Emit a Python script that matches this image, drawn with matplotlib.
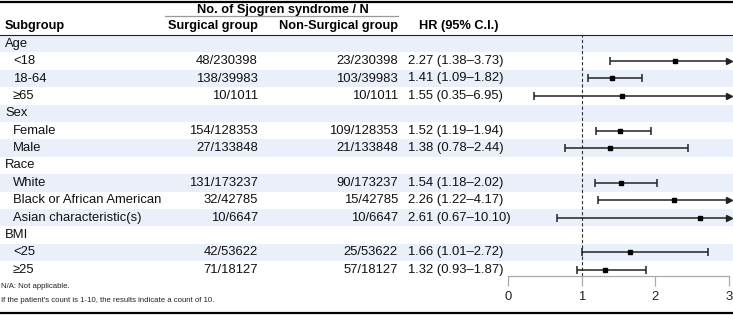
import numpy as np
import matplotlib.pyplot as plt
from matplotlib.lines import Line2D

plt.rcParams['font.family'] = ['Liberation Sans', 'DejaVu Sans']

labels = ["Age", "<18", "18-64", "≥65", "Sex", "Female", "Male", "Race", "White",
          "Black or African American", "Asian characteristic(s)", "BMI", "<25", "≥25"]
is_group = [True, False, False, False, True, False, False, True, False,
            False, False, True, False, False]
surg_events = [None, 48, 138, 10, None, 154, 27, None, 131, 32, 10, None, 42, 71]
nonsurg_events = [None, 23, 103, 10, None, 109, 21, None, 90, 15, 10, None, 25, 57]
n_total = [None, 230398, 39983, 1011, None, 128353, 133848, None, 173237, 42785, 6647,
           None, 53622, 18127]
hr = [None, 2.27, 1.41, 1.55, None, 1.52, 1.38, None, 1.54, 2.26, 2.61, None, 1.66, 1.32]
ci_lo = [None, 1.38, 1.09, 0.35, None, 1.19, 0.78, None, 1.18, 1.22, 0.67, None, 1.01, 0.93]
ci_hi = [None, 3.73, 1.82, 6.95, None, 1.94, 2.44, None, 2.02, 4.17, 10.10, None, 2.72, 1.87]
xticks = [0, 1, 2, 3]
footnotes = ["N/A: Not applicable.",
             "If the patient's count is 1-10, the results indicate a count of 10."]

W, H = 733, 316
fig = plt.figure(figsize=(W / 100, H / 100), dpi=100)

# table layer in pixel coordinates
tab = fig.add_axes([0, 0, 1, 1])
tab.set_xlim(0, W)
tab.set_ylim(H, 0)
tab.axis('off')

row_top = 35.0
row_h = 17.4
fs = 9.4
fs_head = 9.2
shade = '#E9F0FA'

for i, lab in enumerate(labels):
    y0 = row_top + i * row_h
    yc = y0 + row_h / 2
    if i % 2 == 0:
        tab.axhspan(y0, y0 + row_h, color=shade, lw=0, zorder=0)
    x = 5 if is_group[i] else 13
    tab.text(x, yc, lab, fontsize=fs, va='center', ha='left', color='#111')
    if not is_group[i]:
        tab.text(258, yc, f"{surg_events[i]}/{n_total[i]}", fontsize=fs,
                 va='center', ha='right', color='#111')
        tab.text(398, yc, f"{nonsurg_events[i]}/{n_total[i]}", fontsize=fs,
                 va='center', ha='right', color='#111')
        tab.text(408, yc, f"{hr[i]:.2f} ({ci_lo[i]:.2f}\u2013{ci_hi[i]:.2f})",
                 fontsize=fs, va='center', ha='left', color='#111')

# headers
tab.text(283, 10, "No. of Sjogren syndrome / N", fontsize=fs_head, fontweight='bold',
         ha='center', va='center')
tab.add_line(Line2D([165, 398], [16, 16], color='#999999', lw=0.9))
tab.text(5, 26.5, "Subgroup", fontsize=fs_head, fontweight='bold', ha='left', va='center')
tab.text(258, 26.5, "Surgical group", fontsize=fs_head, fontweight='bold',
         ha='right', va='center')
tab.text(398, 26.5, "Non-Surgical group", fontsize=fs_head, fontweight='bold',
         ha='right', va='center')
tab.text(419, 26.5, "HR (95% C.I.)", fontsize=fs_head, fontweight='bold',
         ha='left', va='center')

tab.add_line(Line2D([0, W], [1.5, 1.5], color='black', lw=1.6))
tab.add_line(Line2D([0, W], [34.8, 34.8], color='#222222', lw=0.8))
tab.add_line(Line2D([0, W], [313, 313], color='black', lw=1.6))

tab.text(1, 286, footnotes[0], fontsize=5.6, ha='left', va='center', color='#222')
tab.text(1, 300, footnotes[1], fontsize=5.6, ha='left', va='center', color='#222')

# forest plot axes
ax_left, ax_right = 508, 729
ax_top, ax_bot = row_top, 276
ax = fig.add_axes([ax_left / W, (H - ax_bot) / H, (ax_right - ax_left) / W,
                   (ax_bot - ax_top) / H])
ax.patch.set_alpha(0)
ax.set_xlim(0, 3)
n = len(labels)
ax.set_ylim((ax_bot - row_top) / row_h - 0.5, -0.5)
for s in ['top', 'right', 'left']:
    ax.spines[s].set_visible(False)
ax.spines['bottom'].set_color('#AAAAAA')
ax.spines['bottom'].set_linewidth(0.9)
ax.set_yticks([])
ax.set_xticks(xticks)
ax.tick_params(axis='x', colors='#AAAAAA', length=7, width=0.9, labelsize=fs,
               labelcolor='#222222', pad=4)

ax.axvline(1, color='#333333', lw=0.8, ls=(0, (3, 2)), zorder=1)

line_c = '#222222'
for i in range(n):
    if is_group[i]:
        continue
    lo, hi, est = ci_lo[i], ci_hi[i], hr[i]
    right = min(hi, 3)
    ax.plot([lo, right], [i, i], color=line_c, lw=1.1, solid_capstyle='butt', zorder=2)
    ax.plot([lo], [i], marker='|', ms=6, mew=1.1, color=line_c, zorder=3)
    if hi > 3:
        ax.plot([3], [i], marker='>', ms=4, color=line_c, clip_on=False, zorder=3)
    else:
        ax.plot([hi], [i], marker='|', ms=6, mew=1.1, color=line_c, zorder=3)
    ax.plot([est], [i], marker='s', ms=3.2, color='black', zorder=4)

fig.savefig('out.png', dpi=100)
